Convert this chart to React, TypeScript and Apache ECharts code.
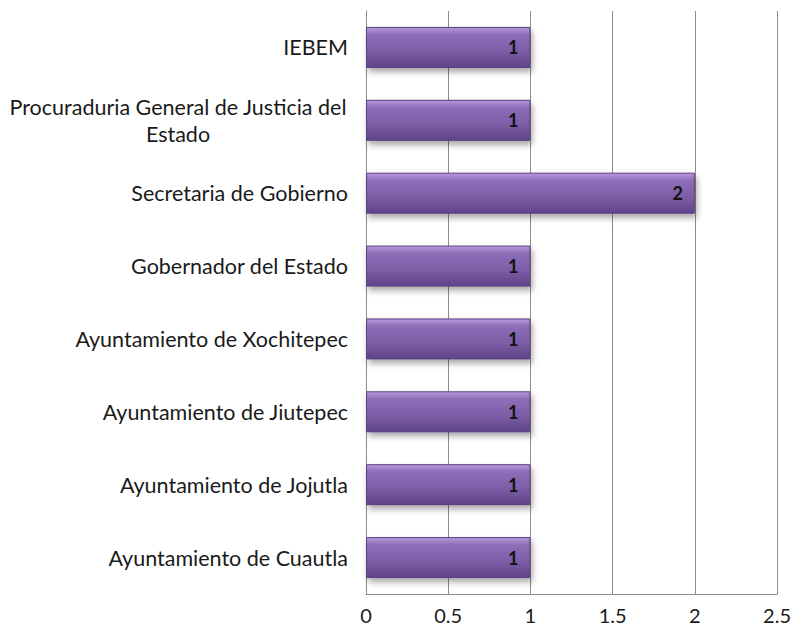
import React, { useEffect, useRef } from "react";
import * as echarts from "echarts";

const categories = [
  "Ayuntamiento de Cuautla",
  "Ayuntamiento de Jojutla",
  "Ayuntamiento de Jiutepec",
  "Ayuntamiento de Xochitepec",
  "Gobernador del Estado",
  "Secretaria de Gobierno",
  "Procuraduria General de Justicia del\nEstado",
  "IEBEM",
];
const values = [1, 1, 1, 1, 1, 2, 1, 1];
const xTicks = [0, 0.5, 1, 1.5, 2, 2.5];

export default function App() {
  const ref = useRef<HTMLDivElement>(null);
  useEffect(() => {
    document.body.style.margin = "0";
    const chart = echarts.init(ref.current!, null, { renderer: "svg" });
    const font = "Lato, 'Noto Sans', sans-serif";
    chart.setOption({
      animation: false,
      backgroundColor: "#ffffff",
      grid: { left: 366, right: 12, top: 11, bottom: 37, containLabel: false },
      xAxis: {
        type: "value",
        min: xTicks[0],
        max: xTicks[xTicks.length - 1],
        interval: 0.5,
        axisLine: { show: true, lineStyle: { color: "#8c8c8c", width: 1 } },
        axisTick: { show: false },
        splitLine: { show: true, lineStyle: { color: "#8c8c8c", width: 1 } },
        axisLabel: {
          color: "#1a1a1a",
          fontSize: 20,
          fontFamily: font,
          margin: 11,
        },
      },
      yAxis: {
        type: "category",
        data: categories,
        axisLine: { show: true, lineStyle: { color: "#8c8c8c" } },
        axisTick: { show: false },
        axisLabel: {
          color: "#1a1a1a",
          fontSize: 21.5,
          fontFamily: font,
          margin: 18,
          lineHeight: 27,
          formatter: (v: string) => {
            if (v.indexOf("\n") >= 0) {
              const parts = v.split("\n");
              return parts.map((p) => "{c|" + p + "}").join("\n");
            }
            return v;
          },
          rich: {
            c: {
              width: 340,
              align: "center",
              fontSize: 21.5,
              fontFamily: font,
              color: "#1a1a1a",
              lineHeight: 27,
            },
          },
        },
      },
      series: [
        {
          type: "bar",
          data: values,
          barWidth: 41,
          itemStyle: {
            color: new echarts.graphic.LinearGradient(0, 0, 0, 1, [
              { offset: 0, color: "#b899dd" },
              { offset: 0.18, color: "#8e6eb8" },
              { offset: 0.6, color: "#7d5da6" },
              { offset: 1, color: "#5f4387" },
            ]),
            borderColor: "#5a4080",
            borderWidth: 1,
            shadowColor: "rgba(0,0,0,0.35)",
            shadowBlur: 6,
            shadowOffsetX: 2,
            shadowOffsetY: 4,
          },
          label: {
            show: true,
            position: "insideRight",
            distance: 12,
            color: "#111111",
            fontWeight: "bold",
            fontSize: 18,
            fontFamily: font,
          },
        },
      ],
    });
    return () => chart.dispose();
  }, []);
  return <div ref={ref} style={{ width: 794, height: 631 }} />;
}
